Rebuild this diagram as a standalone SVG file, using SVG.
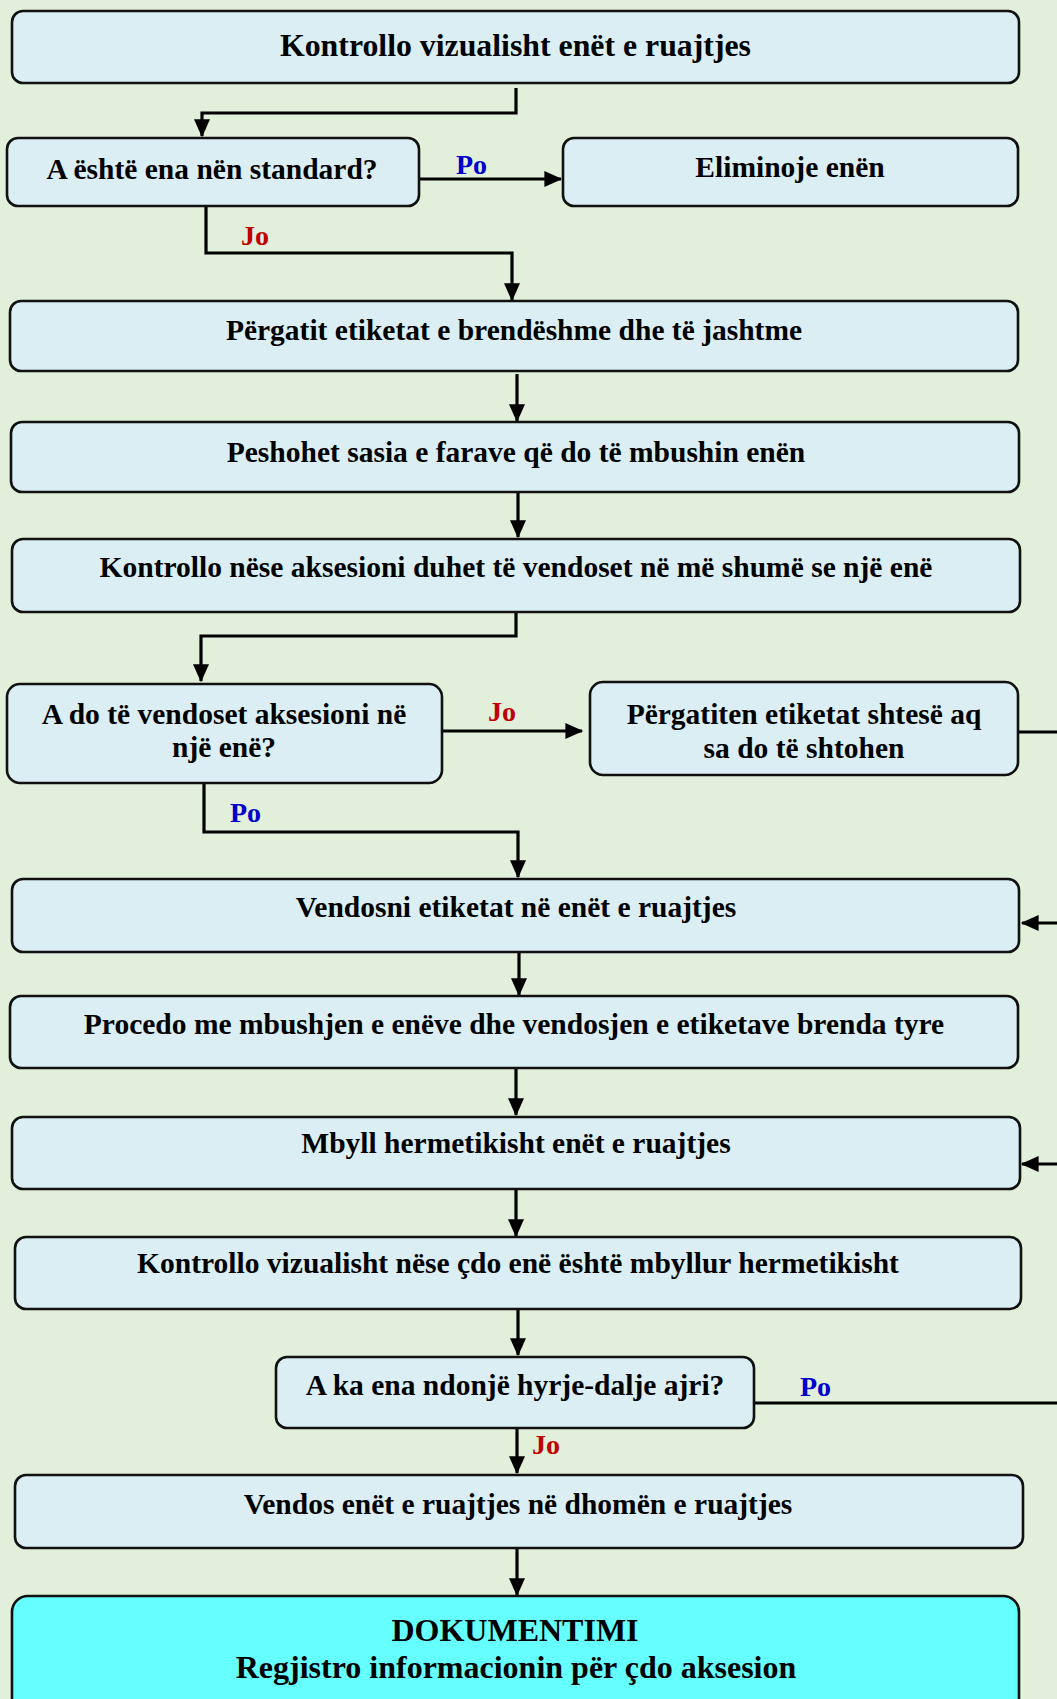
<svg xmlns="http://www.w3.org/2000/svg" width="1057" height="1699" viewBox="0 0 1057 1699">
<defs>
<style>
.bg{fill:#E2EFDA}
.box{fill:#DAEEF3;stroke:#111;stroke-width:2.6}
.doc{fill:#66FFFF;stroke:#111;stroke-width:2.6}
.t{font-family:"Liberation Serif","Times New Roman",serif;font-weight:bold;font-size:29.5px;text-anchor:middle;fill:#000}
.c{fill:none;stroke:#000;stroke-width:3.2}
.po{font-family:"Liberation Serif","Times New Roman",serif;font-weight:bold;font-size:28px;fill:#0000CC}
.jo{font-family:"Liberation Serif","Times New Roman",serif;font-weight:bold;font-size:28px;fill:#C00000}
</style>
<marker id="ah" markerWidth="6" markerHeight="6" refX="5.2" refY="3" orient="auto" markerUnits="strokeWidth" viewBox="0 0 6 6">
<path d="M0,0.5 L5.6,3 L0,5.5 Z" fill="#000"/>
</marker>
</defs>
<rect class="bg" x="0" y="0" width="1057" height="1699"/>

<g id="connectors">
<polyline class="c" points="516,88 516,113 202,113 202,136" marker-end="url(#ah)"/>
<polyline class="c" points="419,179 561,179" marker-end="url(#ah)"/>
<polyline class="c" points="206,206 206,253 512,253 512,300" marker-end="url(#ah)"/>
<polyline class="c" points="517,374 517,421" marker-end="url(#ah)"/>
<polyline class="c" points="518,492 518,537" marker-end="url(#ah)"/>
<polyline class="c" points="516,607 516,636 201,636 201,681" marker-end="url(#ah)"/>
<polyline class="c" points="442,731 582,731" marker-end="url(#ah)"/>
<polyline class="c" points="204,783 204,832 518,832 518,877" marker-end="url(#ah)"/>
<polyline class="c" points="1018,732 1060,732"/>
<polyline class="c" points="1060,923 1022,923" marker-end="url(#ah)"/>
<polyline class="c" points="519,952 519,995" marker-end="url(#ah)"/>
<polyline class="c" points="516,1068 516,1115" marker-end="url(#ah)"/>
<polyline class="c" points="1060,1164 1022,1164" marker-end="url(#ah)"/>
<polyline class="c" points="516,1189 516,1236" marker-end="url(#ah)"/>
<polyline class="c" points="518,1309 518,1355" marker-end="url(#ah)"/>
<polyline class="c" points="754,1403 1060,1403"/>
<polyline class="c" points="517,1428 517,1473" marker-end="url(#ah)"/>
<polyline class="c" points="517,1548 517,1595" marker-end="url(#ah)"/>
<text class="po" x="456" y="174">Po</text>
<text class="jo" x="241" y="245">Jo</text>
<text class="jo" x="488" y="721">Jo</text>
<text class="po" x="230" y="822">Po</text>
<text class="po" x="800" y="1396">Po</text>
<text class="jo" x="532" y="1454">Jo</text>
</g>

<g id="n1"><rect class="box" x="12" y="11" width="1007" height="72" rx="11"/>
<text class="t" x="515.5" y="56" style="font-size:31.8px">Kontrollo vizualisht enët e ruajtjes</text></g>
<g id="n2"><rect class="box" x="7" y="138" width="412" height="68" rx="11"/>
<text class="t" x="212" y="179">A është ena nën standard?</text></g>
<g id="n3"><rect class="box" x="563" y="138" width="455" height="68" rx="11"/>
<text class="t" x="790" y="177">Eliminoje enën</text></g>
<g id="n4"><rect class="box" x="10" y="301" width="1008" height="70" rx="11"/>
<text class="t" x="514" y="340">Përgatit etiketat e brendëshme dhe të jashtme</text></g>
<g id="n5"><rect class="box" x="11" y="422" width="1008" height="70" rx="11"/>
<text class="t" x="516" y="462">Peshohet sasia e farave që do të mbushin enën</text></g>
<g id="n6"><rect class="box" x="12" y="539" width="1008" height="73" rx="11"/>
<text class="t" x="516" y="577">Kontrollo nëse aksesioni duhet të vendoset në më shumë se një enë</text></g>
<g id="n7"><rect class="box" x="7" y="684" width="435" height="99" rx="13"/>
<text class="t" x="224" y="724">A do të vendoset aksesioni në</text>
<text class="t" x="224" y="757">një enë?</text></g>
<g id="n8"><rect class="box" x="590" y="682" width="428" height="93" rx="13"/>
<text class="t" x="804" y="724">Përgatiten etiketat shtesë aq</text>
<text class="t" x="804" y="758">sa do të shtohen</text></g>
<g id="n9"><rect class="box" x="12" y="879" width="1007" height="73" rx="11"/>
<text class="t" x="516" y="917">Vendosni etiketat në enët e ruajtjes</text></g>
<g id="n10"><rect class="box" x="10" y="996" width="1008" height="72" rx="11"/>
<text class="t" x="514" y="1034">Procedo me mbushjen e enëve dhe vendosjen e etiketave brenda tyre</text></g>
<g id="n11"><rect class="box" x="12" y="1117" width="1008" height="72" rx="11"/>
<text class="t" x="516" y="1153">Mbyll hermetikisht enët e ruajtjes</text></g>
<g id="n12"><rect class="box" x="15" y="1237" width="1006" height="72" rx="11"/>
<text class="t" x="518" y="1273">Kontrollo vizualisht nëse çdo enë është mbyllur hermetikisht</text></g>
<g id="n13"><rect class="box" x="276" y="1357" width="478" height="71" rx="11"/>
<text class="t" x="515" y="1395">A ka ena ndonjë hyrje-dalje ajri?</text></g>
<g id="n14"><rect class="box" x="15" y="1475" width="1008" height="73" rx="11"/>
<text class="t" x="518" y="1514">Vendos enët e ruajtjes në dhomën e ruajtjes</text></g>
<g id="n15"><rect class="doc" x="12" y="1596" width="1007" height="130" rx="16"/>
<text class="t" x="515" y="1641" style="font-size:32px">DOKUMENTIMI</text>
<text class="t" x="516" y="1678" style="font-size:32px">Regjistro informacionin për çdo aksesion</text></g>
</svg>
